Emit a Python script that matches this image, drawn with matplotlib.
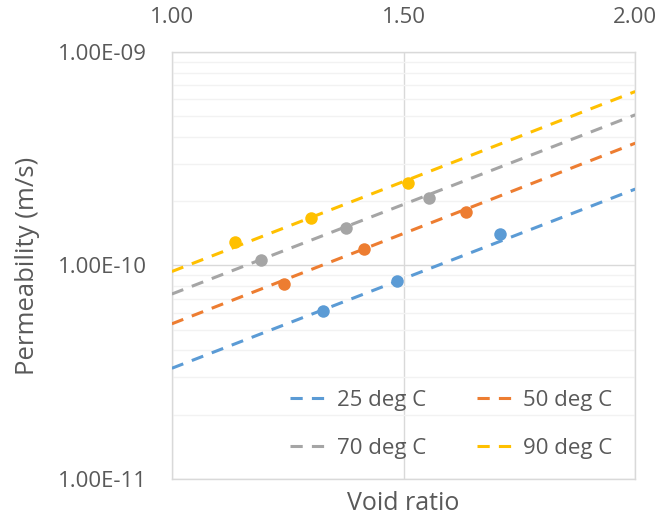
import math
import matplotlib
matplotlib.use("Agg")
import matplotlib.pyplot as plt
from matplotlib.ticker import FixedLocator, LogLocator, FuncFormatter, NullFormatter

# Measured permeability against void ratio at four temperatures
temps = ["25 deg C", "50 deg C", "70 deg C", "90 deg C"]
colors = ["#5B9BD5", "#ED7D31", "#A5A5A5", "#FFC000"]

void_25 = [1.326, 1.486, 1.708]
perm_25 = [6.11e-11, 8.45e-11, 1.40e-10]
void_50 = [1.241, 1.414, 1.634]
perm_50 = [8.21e-11, 1.19e-10, 1.79e-10]
void_70 = [1.192, 1.375, 1.555]
perm_70 = [1.06e-10, 1.50e-10, 2.07e-10]
void_90 = [1.136, 1.300, 1.509]
perm_90 = [1.29e-10, 1.66e-10, 2.43e-10]

# Exponential trend lines: permeability at void ratio 1.0 and 2.0
trend_e = [1.0, 2.0]
trend_25 = [3.30e-11, 2.28e-10]
trend_50 = [5.33e-11, 3.74e-10]
trend_70 = [7.35e-11, 5.08e-10]
trend_90 = [9.37e-11, 6.53e-10]

x_ticks = [1.0, 1.5, 2.0]
y_ticks = [1e-11, 1e-10, 1e-9]

series = [
    (void_25, perm_25, trend_25),
    (void_50, perm_50, trend_50),
    (void_70, perm_70, trend_70),
    (void_90, perm_90, trend_90),
]

plt.rcParams["font.family"] = ["Open Sans", "DejaVu Sans"]
text_color = "#595959"
grid_major = "#D9D9D9"
grid_minor = "#F2F2F2"

fig = plt.figure(figsize=(6.61, 5.15), dpi=100)
ax = fig.add_axes([0.260, 0.070, 0.701, 0.829])

ax.set_yscale("log")
ax.set_xlim(1.0, 2.0)
ax.set_ylim(1e-11, 1e-9)

trend_handles = []
for (xs, ys, tr), name, c in zip(series, temps, colors):
    h, = ax.plot(trend_e, tr, linestyle=(0, (4, 3)), color=c, lw=2.2,
                 label=name, zorder=3)
    trend_handles.append(h)
    ax.plot(xs, ys, linestyle="none", marker="o", ms=9, color=c,
            markeredgewidth=0, zorder=4)

# Grid
ax.xaxis.set_major_locator(FixedLocator(x_ticks))
ax.yaxis.set_major_locator(FixedLocator(y_ticks))
ax.yaxis.set_minor_locator(LogLocator(base=10, subs=range(2, 10), numticks=20))
ax.yaxis.set_minor_formatter(NullFormatter())
ax.grid(which="major", axis="both", color=grid_major, lw=1.0, zorder=0)
ax.grid(which="minor", axis="y", color=grid_minor, lw=1.0, zorder=0)
ax.set_axisbelow(True)

for s in ax.spines.values():
    s.set_color(grid_major)
    s.set_linewidth(1.0)

# Ticks: x labels on top, no tick marks
ax.xaxis.tick_top()
ax.xaxis.set_major_formatter(FuncFormatter(lambda v, p: f"{v:.2f}"))


def sci_fmt(v, p):
    exp = int(round(math.log10(v)))
    sign = "-" if exp < 0 else "+"
    return f"1.00E{sign}{abs(exp):02d}"


ax.yaxis.set_major_formatter(FuncFormatter(sci_fmt))
ax.tick_params(axis="both", which="both", length=0, labelsize=16,
               labelcolor=text_color)
ax.tick_params(axis="x", pad=17)
ax.tick_params(axis="y", pad=18)

ax.set_xlabel("Void ratio", fontsize=18, color=text_color, labelpad=8.5)
ax.xaxis.set_label_position("bottom")
ax.set_ylabel("Permeability (m/s)", fontsize=18.5, color=text_color,
              labelpad=12.5)

# Legend filled row by row: 25, 50 / 70, 90
order = [0, 2, 1, 3]
leg = ax.legend([trend_handles[i] for i in order], [temps[i] for i in order],
                loc="upper left", ncol=2, frameon=False, fontsize=16,
                handlelength=1.53, handletextpad=0.57, columnspacing=2.27,
                labelspacing=1.21, bbox_to_anchor=(0.409, 0.282),
                bbox_transform=fig.transFigure)
for t in leg.get_texts():
    t.set_color(text_color)

fig.savefig("out.png", dpi=100)
